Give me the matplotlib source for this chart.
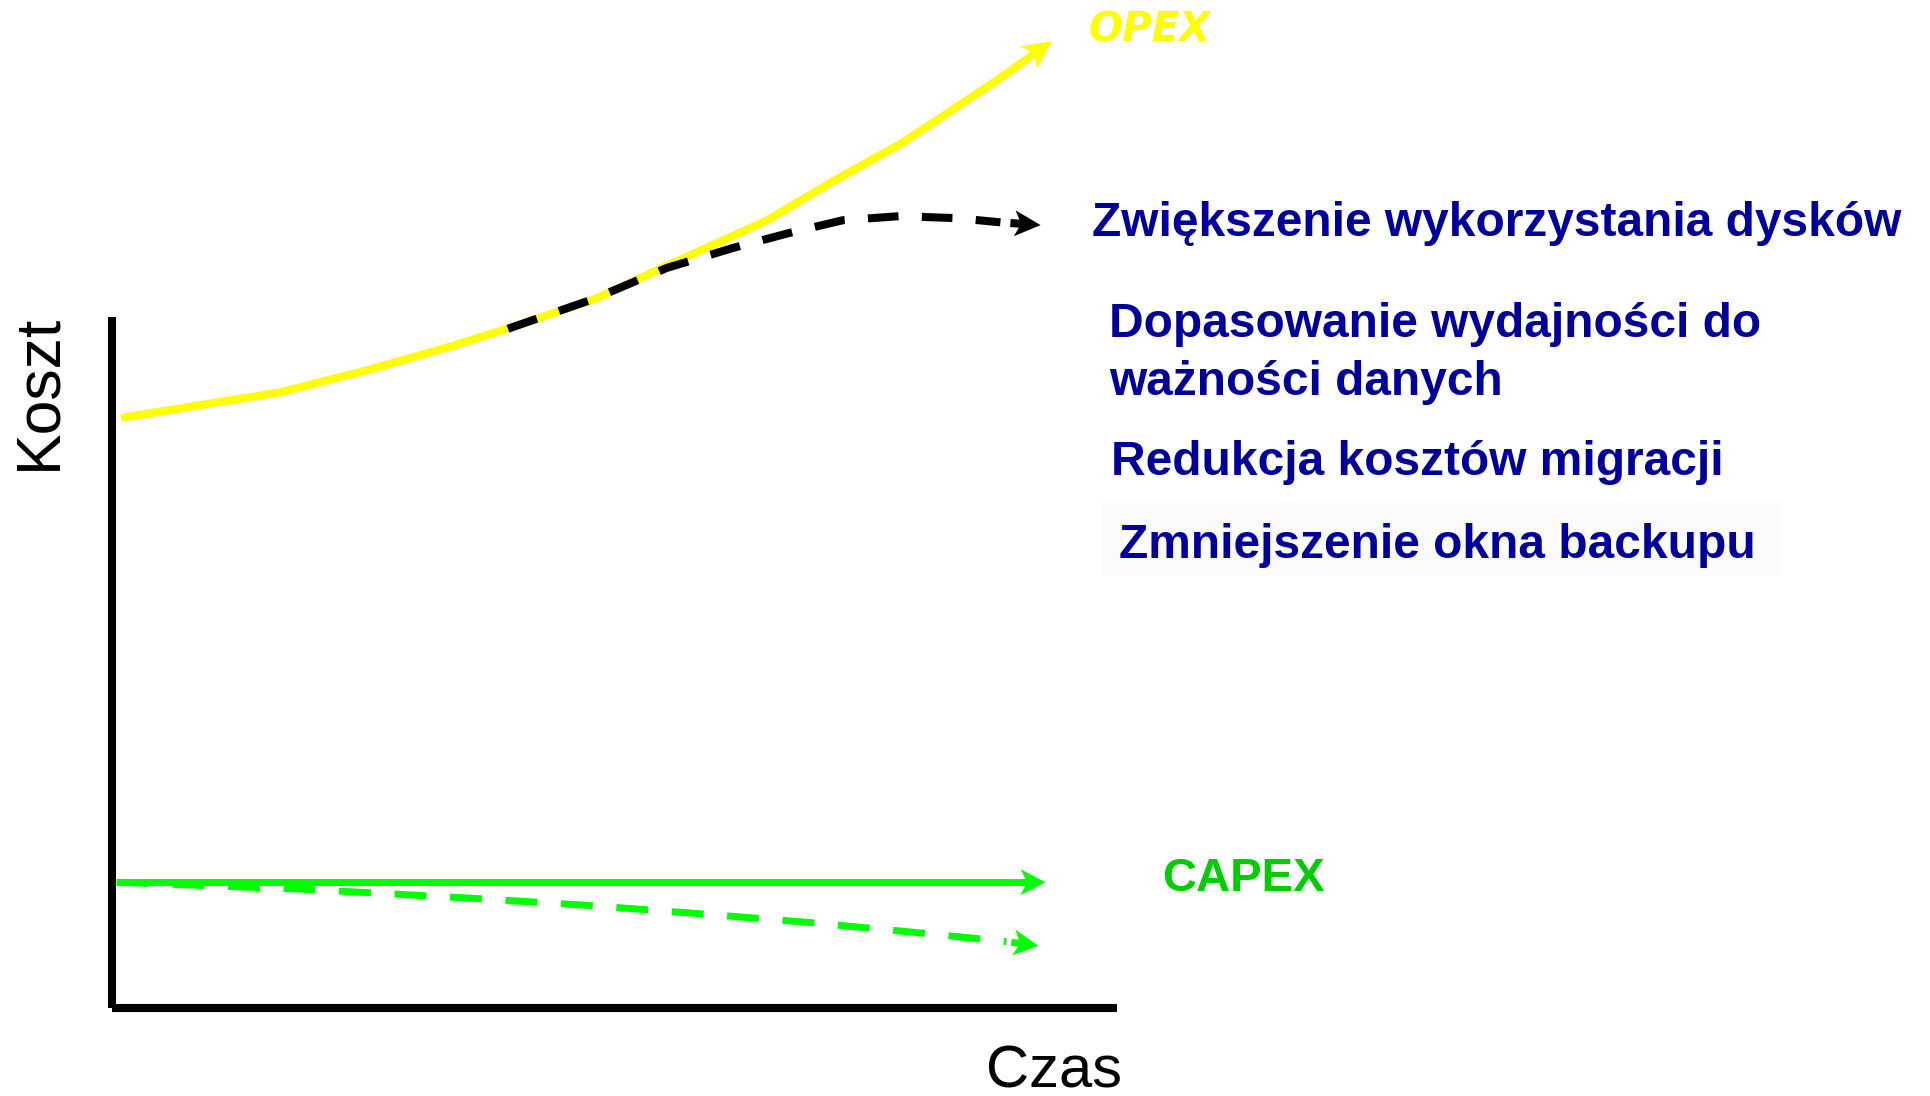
import math
import matplotlib
matplotlib.use("Agg")
import matplotlib.pyplot as plt
from matplotlib.patches import Rectangle, Polygon
from matplotlib.lines import Line2D
from matplotlib.transforms import Affine2D, IdentityTransform

# ---------------- data (time in % of axis, cost in % of axis) ----------------
opex_t = [0.9, 16.7, 25.4, 33.6, 39.3, 47.9, 55.2, 65.2, 71.7, 78.4, 82.4, 88.4, 93.5]
opex_c = [85.4, 89.1, 92.3, 95.7, 98.3, 102.5, 107.4, 114.0, 119.6, 125.0, 128.8, 134.6, 139.9]

opex_opt_t = [39.4, 47.9, 55.2, 61.8, 67.5, 72.7, 78.4, 84.1, 88.4, 92.4]
opex_opt_c = [98.3, 102.6, 107.1, 110.0, 112.2, 114.0, 114.6, 114.3, 113.7, 113.3]

capex_t = [0.4, 92.9]
capex_c = [18.2, 18.2]

capex_opt_t = [0.5, 19.0, 35.6, 46.9, 58.0, 69.2, 80.2, 85.7, 89.0, 92.2]
capex_opt_c = [18.2, 17.2, 15.9, 14.9, 13.7, 12.4, 10.9, 10.1, 9.6, 9.0]

benefits = ["Zwiększenie wykorzystania dysków",
            "Dopasowanie wydajności do",
            "ważności danych",
            "Redukcja kosztów migracji",
            "Zmniejszenie okna backupu"]
x_label = "Czas"
y_label = "Koszt"
opex_label = "OPEX"
capex_label = "CAPEX"

# ---------------- figure ----------------
W, H = 1930, 1096
fig = plt.figure(figsize=(W / 100, H / 100), dpi=100)
fig.patch.set_facecolor("white")

def fx(px):
    return px / W

def fy(py):
    return 1 - py / H

ax_l, ax_r, ax_t, ax_b = 112, 1117, 317, 1008
ax = fig.add_axes([fx(ax_l), fy(ax_b), (ax_r - ax_l) / W, (ax_b - ax_t) / H])
ax.set_xlim(0, 100)
ax.set_ylim(0, 100)
ax.set_facecolor("none")
for s in ("top", "right"):
    ax.spines[s].set_visible(False)
for s in ("left", "bottom"):
    ax.spines[s].set_linewidth(5.8)
    ax.spines[s].set_color("black")
    ax.spines[s].set_capstyle("butt")
ax.set_xticks([])
ax.set_yticks([])

YEL = "#FFFF00"
GRN = "#00FF00"
NAVY = "#000099"


def arrow_head(x0, y0, x1, y1, color, lw, L=25, Wd=25, gap=0):
    """Solid stub + stealth-like head from data point (x0,y0) to tip (x1,y1)."""
    p0 = ax.transData.transform((x0, y0))
    p1 = ax.transData.transform((x1, y1))
    dx, dy = p1[0] - p0[0], p1[1] - p0[1]
    n = math.hypot(dx, dy)
    ux, uy = dx / n, dy / n
    theta = math.atan2(dy, dx)
    sx, sy = p0[0] + ux * gap, p0[1] + uy * gap
    ex, ey = p1[0] - ux * 0.72 * L, p1[1] - uy * 0.72 * L
    fig.add_artist(Line2D([sx, ex], [sy, ey], transform=IdentityTransform(),
                          color=color, lw=lw, solid_capstyle="butt", zorder=5))
    head = Polygon([(0, 0), (-L, Wd / 2), (-0.75 * L, 0), (-L, -Wd / 2)], closed=True,
                   facecolor=color, edgecolor="none", zorder=5,
                   transform=Affine2D().rotate(theta).translate(p1[0], p1[1]))
    fig.add_artist(head)


# OPEX (solid yellow)
ax.plot(opex_t[:-1], opex_c[:-1], color=YEL, lw=5.8, clip_on=False,
        solid_capstyle="butt", solid_joinstyle="round", zorder=3)
arrow_head(opex_t[-2], opex_c[-2], opex_t[-1], opex_c[-1], YEL, 5.8, L=28, Wd=28)

# optimised OPEX (dashed black)
ax.plot(opex_opt_t[:-1], opex_opt_c[:-1], color="black", lw=5.8, clip_on=False,
        dashes=(3.8, 2.9), dash_capstyle="butt", zorder=4)
arrow_head(opex_opt_t[-2], opex_opt_c[-2], opex_opt_t[-1], opex_opt_c[-1], "black", 5.8,
           L=26, Wd=26, gap=10)

# CAPEX (solid green)
ax.plot(capex_t[:-1] + [capex_t[-1] - 1.5], capex_c, color=GRN, lw=5.0, clip_on=False,
        solid_capstyle="butt", zorder=3)
arrow_head(capex_t[-1] - 3, capex_c[-1], capex_t[-1], capex_c[-1], GRN, 5.0, L=25, Wd=26)

# optimised CAPEX (dashed green)
ax.plot(capex_opt_t[:-1], capex_opt_c[:-1], color=GRN, lw=5.0, clip_on=False,
        dashes=(4.6, 3.4), dash_capstyle="butt", zorder=3)
arrow_head(capex_opt_t[-2], capex_opt_c[-2], capex_opt_t[-1], capex_opt_c[-1], GRN, 5.0,
           L=25, Wd=26, gap=5)

# ---------------- text ----------------
fig.text(fx(1150), fy(42), opex_label, color=YEL, fontsize=29, fontweight="bold",
         fontstyle="italic", family="DejaVu Sans", ha="center", va="baseline")

# very faint background box behind last benefit
fig.patches.append(Rectangle((fx(1102), fy(576)), (1781 - 1102) / W, (576 - 501) / H,
                             transform=fig.transFigure, facecolor="#fbfbfb",
                             edgecolor="none", zorder=0))

txt_kw = dict(color=NAVY, fontsize=34.5, fontweight="bold",
              family="Liberation Sans", ha="left", va="baseline")
fig.text(fx(1092), fy(236), benefits[0], **txt_kw)
fig.text(fx(1109), fy(337), benefits[1], **txt_kw)
fig.text(fx(1109), fy(395), benefits[2], **txt_kw)
fig.text(fx(1111), fy(475), benefits[3], **txt_kw)
fig.text(fx(1119), fy(558), benefits[4], **txt_kw)

fig.text(fx(1162), fy(891), capex_label, color="#00CC00", fontsize=34,
         fontweight="bold", family="Liberation Sans", ha="left", va="baseline")

fig.text(fx(986), fy(1087), x_label, color="black", fontsize=43,
         family="Liberation Sans", ha="left", va="baseline")
fig.text(fx(39), fy(392), y_label, color="black", fontsize=45,
         family="Liberation Sans", ha="center", va="center", rotation=90)

fig.savefig("out.png", dpi=100, facecolor="white")
